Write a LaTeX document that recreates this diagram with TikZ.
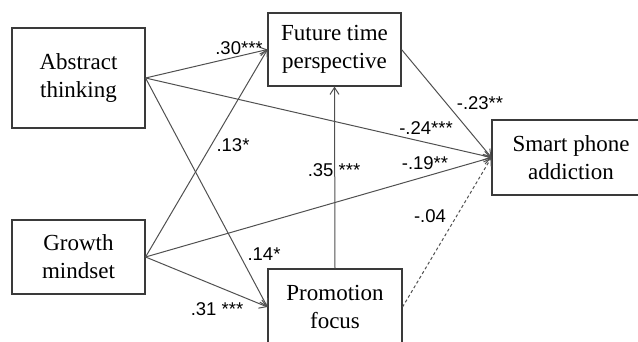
\documentclass[tikz,border=0pt]{standalone}
\usepackage{fontspec}
\setmainfont{Liberation Serif}
\newfontfamily\labfont{Liberation Sans}
\usetikzlibrary{arrows.meta}
\definecolor{boxline}{HTML}{3A3A3A}
\definecolor{arrline}{HTML}{505050}
\tikzset{
  varbox/.style={draw=boxline, line width=1.1pt, fill=white, align=center, inner sep=0pt,
    font=\fontsize{23}{28}\selectfont},
  path/.style={draw=arrline, line width=1pt, -{Straight Barb[length=7pt,width=9pt]}},
  coef/.style={font=\labfont\fontsize{18.5}{20}\selectfont, inner sep=0pt, text=black}
}
\begin{document}
\begin{tikzpicture}[x=1pt,y=-1pt]
\useasboundingbox (0,0) rectangle (638,342);
\clip (0,0) rectangle (638,342);
\node[varbox, minimum width=133pt, minimum height=100pt] (abs) at (78.5,78) {Abstract\\thinking};
\node[varbox, minimum width=133pt, minimum height=74pt] (grw) at (78.5,257) {Growth\\mindset};
\node[varbox, minimum width=133pt, minimum height=73pt] (ftp) at (334.5,49.5) {Future time\\perspective};
\node[varbox, minimum width=134pt, minimum height=76pt] (pro) at (335,307) {Promotion\\focus};
\node[varbox, minimum width=158pt, minimum height=75pt] (spa) at (571,157.5) {Smart phone\\addiction};
% paths
\draw[path] (abs.east) -- (ftp.west);
\draw[path] (abs.east) -- (pro.west);
\draw[path] (abs.east) -- (spa.west);
\draw[path] (grw.east) -- (ftp.west);
\draw[path] (grw.east) -- (pro.west);
\draw[path] (grw.east) -- (spa.west);
\draw[path] (ftp.east) -- (spa.west);
\draw[path] (pro.north) -- (ftp.south);
\draw[path, dashed, dash pattern=on 3pt off 2.5pt] (pro.east) -- (spa.west);
% coefficients
\node[coef] (c1) at (239,48) {.30***};
\node[coef] (c2) at (233,145) {.13*};
\node[coef] (c3) at (426,128) {-.24***};
\node[coef] (c4) at (480,103) {-.23**};
\node[coef] (c5) at (425,163) {-.19**};
\node[coef] (c6) at (334,170) {.35 ***};
\node[coef] (c7) at (264,254) {.14*};
\node[coef] (c8) at (217,309) {.31 ***};
\node[coef] (c9) at (430,216) {-.04};
\end{tikzpicture}
\end{document}
